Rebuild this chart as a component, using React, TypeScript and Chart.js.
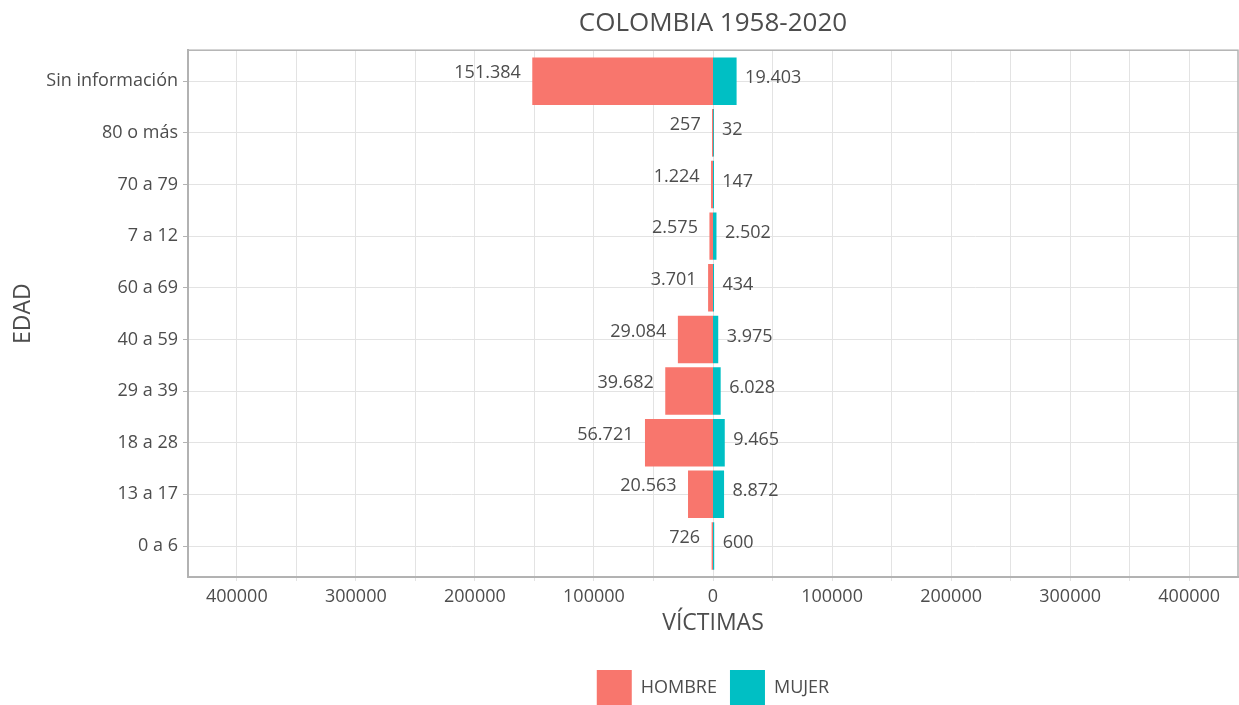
import React, { useEffect, useRef } from "react";
import { Chart, registerables } from "chart.js";

Chart.register(...registerables);

// Categories listed top to bottom as in the reference
const categories = [
  "Sin información",
  "80 o más",
  "70 a 79",
  "7 a 12",
  "60 a 69",
  "40 a 59",
  "29 a 39",
  "18 a 28",
  "13 a 17",
  "0 a 6",
];
const hombre = [151384, 257, 1224, 2575, 3701, 29084, 39682, 56721, 20563, 726];
const mujer = [19403, 32, 147, 2502, 434, 3975, 6028, 9465, 8872, 600];
const xTickValues = [-400000, -300000, -200000, -100000, 0, 100000, 200000, 300000, 400000];

const TITLE = "COLOMBIA 1958-2020";
const X_TITLE = "VÍCTIMAS";
const Y_TITLE = "EDAD";

const FONT = "'Open Sans', Lato, sans-serif";
const TEXT = "#4d4d4d";
const GRID = "#e3e3e3";
const BORDER = "#b3b3b3";
const MALE = "#F8766D";
const FEMALE = "#00BFC4";

const n = categories.length;
const pos = (i: number) => n - 1 - i; // top of list at top of axis

const fmt = (v: number) =>
  String(Math.round(Math.abs(v))).replace(/\B(?=(\d{3})+(?!\d))/g, ".");

const labelPlugin = {
  id: "barValueLabels",
  afterDatasetsDraw(chart: any) {
    const ctx = chart.ctx;
    ctx.save();
    ctx.font = `18px ${FONT}`;
    ctx.fillStyle = TEXT;
    ctx.textBaseline = "middle";
    const base = chart.scales.x.getPixelForValue(0);
    chart.data.datasets.forEach((ds: any, di: number) => {
      const meta = chart.getDatasetMeta(di);
      meta.data.forEach((el: any, i: number) => {
        const raw = ds.data[i].x;
        if (di === 0) {
          ctx.textAlign = "right";
          ctx.fillText(fmt(raw), Math.min(el.x, base) - 12, el.y - 8);
        } else {
          ctx.textAlign = "left";
          ctx.fillText(fmt(raw), Math.max(el.x, base) + 9, el.y - 3);
        }
      });
    });
    ctx.restore();
  },
  afterDraw(chart: any) {
    const { left, top, width, height } = chart.chartArea;
    const ctx = chart.ctx;
    ctx.save();
    ctx.strokeStyle = BORDER;
    ctx.lineWidth = 1.5;
    ctx.strokeRect(left, top, width, height);
    ctx.restore();
  },
};

export default function App() {
  const ref = useRef<HTMLCanvasElement>(null);

  useEffect(() => {
    document.body.style.margin = "0";
    const chart = new Chart(ref.current as HTMLCanvasElement, {
      type: "bar",
      data: {
        datasets: [
          {
            label: "HOMBRE",
            data: hombre.map((v, i) => ({ x: -v, y: pos(i) })),
            backgroundColor: MALE,
            borderWidth: 0,
            inflateAmount: 0.5,
            barPercentage: 0.9,
            categoryPercentage: 1,
          },
          {
            label: "MUJER",
            data: mujer.map((v, i) => ({ x: v, y: pos(i) })),
            backgroundColor: FEMALE,
            borderWidth: 0,
            inflateAmount: 0.5,
            barPercentage: 0.9,
            categoryPercentage: 1,
          },
        ],
      },
      options: {
        indexAxis: "y",
        animation: false,
        responsive: true,
        maintainAspectRatio: false,
        layout: { padding: { left: 0, right: 1, top: 0, bottom: 0 } },
        scales: {
          x: {
            type: "linear",
            stacked: true,
            min: -441000,
            max: 441000,
            afterBuildTicks: (scale: any) => {
              const t: any[] = [];
              for (let v = -400000; v <= 400000; v += 50000) t.push({ value: v });
              scale.ticks = t;
            },
            afterFit: (scale: any) => {
              scale.height = 80;
            },
            ticks: {
              autoSkip: false,
              maxRotation: 0,
              color: TEXT,
              font: { family: FONT, size: 18 },
              padding: 5,
              callback: (v: any) => {
                const num = Number(v);
                return xTickValues.includes(num) ? String(Math.abs(num)) : "";
              },
            },
            grid: {
              color: GRID,
              lineWidth: 1,
              drawTicks: true,
              tickLength: 4,
              tickColor: GRID,
            },
            border: { display: true, color: BORDER, width: 2 },
            title: {
              display: true,
              text: X_TITLE,
              color: TEXT,
              font: { family: FONT, size: 23 },
              padding: { top: 0, bottom: 20 },
            },
          },
          y: {
            type: "linear",
            stacked: true,
            offset: false,
            min: -0.6,
            max: n - 1 + 0.6,
            afterBuildTicks: (scale: any) => {
              scale.ticks = categories.map((_, i) => ({ value: pos(i) }));
            },
            afterFit: (scale: any) => {
              scale.width = 188;
            },
            ticks: {
              autoSkip: false,
              color: TEXT,
              font: { family: FONT, size: 18 },
              padding: 5,
              callback: (v: any) => {
                const idx = n - 1 - Number(v);
                return categories[idx] ?? "";
              },
            },
            grid: {
              offset: false,
              color: GRID,
              lineWidth: 1,
              drawTicks: true,
              tickLength: 5,
              tickColor: BORDER,
            },
            border: { display: true, color: BORDER, width: 2 },
            title: {
              display: true,
              text: Y_TITLE,
              color: TEXT,
              font: { family: FONT, size: 23 },
              padding: { top: 10, bottom: 0 },
            },
          },
        },
        plugins: {
          title: {
            display: true,
            text: TITLE,
            fullSize: false,
            color: TEXT,
            font: { family: FONT, size: 26, weight: "normal" },
            padding: { top: 8, bottom: 11 },
          },
          legend: {
            display: true,
            position: "bottom",
            fullSize: false,
            labels: {
              boxWidth: 35,
              boxHeight: 35,
              padding: 13,
              color: TEXT,
              font: { family: FONT, size: 18 },
            },
          },
          tooltip: { enabled: false },
        },
      },
      plugins: [labelPlugin],
    } as any);
    return () => chart.destroy();
  }, []);

  return (
    <div
      style={{
        position: "fixed",
        left: 0,
        top: 0,
        width: 1239,
        height: 705,
        overflow: "hidden",
        background: "#fff",
      }}
    >
      <div style={{ position: "relative", width: 1239, height: 715 }}>
        <canvas ref={ref} />
      </div>
    </div>
  );
}
